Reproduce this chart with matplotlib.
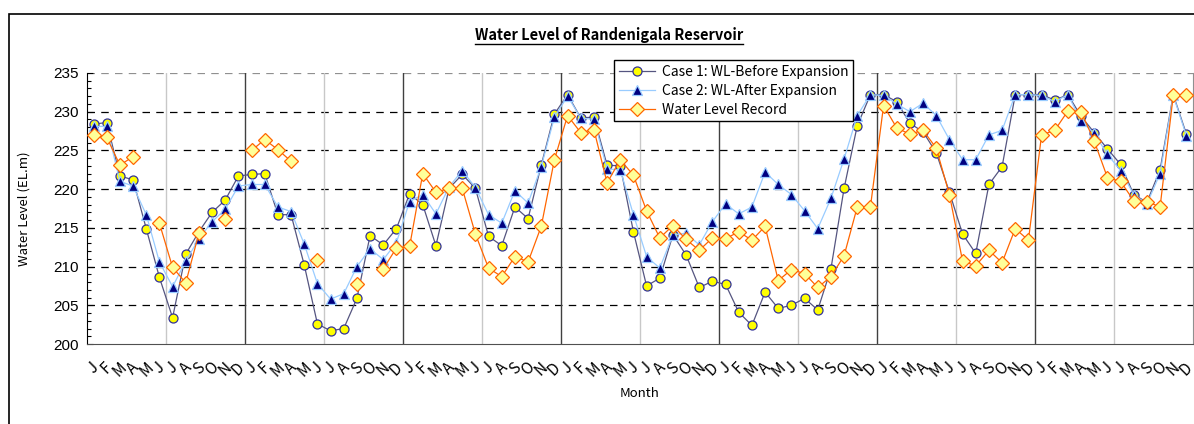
import numpy as np
import matplotlib
matplotlib.use("Agg")
import matplotlib.pyplot as plt
from matplotlib.lines import Line2D
from matplotlib.patches import Rectangle
from matplotlib.ticker import MultipleLocator

# ----------------------------
# Data (7 years x 12 months)
# ----------------------------
months = list("JFMAMJJASOND") * 7
nan = np.nan

case1_before = [
    228.4, 228.6, 221.7, 221.2, 214.9, 208.6, 203.4, 211.6, 214.5, 217.0, 218.6, 221.7,
    221.9, 222.0, 216.7, 216.7, 210.2, 202.6, 201.7, 202.0, 205.9, 214.0, 212.8, 214.9,
    219.4, 218.0, 212.7, 220.1, 221.9, 220.1, 213.9, 212.7, 217.7, 216.2, 223.1, 229.7,
    232.2, 229.2, 229.3, 223.1, 223.0, 214.5, 207.5, 208.5, 214.1, 211.5, 207.3, 208.1,
    207.7, 204.1, 202.4, 206.7, 204.6, 205.0, 205.9, 204.4, 209.7, 220.1, 228.2, 232.2,
    232.2, 231.3, 228.5, 227.4, 224.7, 219.6, 214.2, 211.7, 220.6, 222.9, 232.2, 232.2,
    232.2, 231.5, 232.2, 229.4, 227.3, 225.2, 223.2, 219.3, 218.3, 222.5, 232.2, 227.1,
]

case2_after = [
    228.1, 228.1, 221.0, 220.4, 216.7, 210.6, 207.4, 210.7, 213.6, 215.8, 217.4, 220.4,
    220.6, 220.6, 217.7, 217.1, 212.9, 207.8, 205.8, 206.5, 210.0, 212.3, 210.9, 213.1,
    218.4, 219.3, 216.8, 220.3, 222.4, 220.2, 216.7, 215.6, 219.8, 218.2, 222.9, 229.3,
    232.0, 229.2, 229.0, 222.6, 222.5, 216.7, 211.3, 209.8, 214.1, 214.3, 212.8, 215.8,
    218.1, 216.8, 217.7, 222.2, 220.6, 219.3, 217.2, 214.9, 218.8, 223.9, 229.5, 232.2,
    232.1, 231.0, 230.0, 231.1, 229.5, 226.4, 223.8, 223.8, 227.0, 227.6, 232.2, 232.2,
    232.1, 231.3, 232.2, 228.8, 227.2, 224.5, 222.4, 219.3, 218.1, 222.0, 232.1, 226.9,
]

wl_record = [
    227.0, 226.7, 223.1, 224.2, nan, 215.6, 209.9, 207.9, 214.3, nan, 216.1, nan,
    225.0, 226.4, 225.1, 223.6, nan, 210.9, nan, nan, 207.8, nan, 209.7, 212.4,
    212.6, 222.0, 219.6, 220.1, 220.1, 214.2, 209.8, 208.7, 211.3, 210.6, 215.2, 223.8,
    229.5, 227.3, 227.7, 220.8, 223.8, 221.8, 217.2, 213.7, 215.3, 213.5, 212.1, 213.7,
    213.6, 214.5, 213.4, 215.2, 208.2, 209.6, 209.1, 207.3, 208.7, 211.4, 217.7, 217.7,
    230.8, 227.9, 227.1, 227.6, 225.3, 219.3, 210.7, 210.1, 212.1, 210.5, 214.9, 213.4,
    227.0, 227.6, 230.1, 230.0, 226.2, 221.5, 221.0, 218.5, 218.4, 217.7, 232.1, 232.1,
]

x = np.arange(len(months))

# ----------------------------
# Figure
# ----------------------------
plt.rcParams['font.family'] = ['Noto Sans CJK JP', 'DejaVu Sans']

fig = plt.figure(figsize=(11.94, 4.24), dpi=100)
ax = fig.add_axes([87 / 1194, 1 - 344 / 424, 1106 / 1194, 271 / 424])

# outer chart-area frame
fig.patches.append(Rectangle((9 / 1194, -0.05), 1.2, 1 - 14 / 424 + 0.05,
                             transform=fig.transFigure, fill=False,
                             edgecolor='black', linewidth=1.2))

# horizontal dashed grid
for v in range(205, 235, 5):
    ax.axhline(v, color='black', linestyle=(0, (6, 5)), linewidth=0.9, zorder=1)
ax.axhline(235, color='#909090', linestyle=(0, (6, 5)), linewidth=0.9, zorder=1)

# year boundaries and mid-year lines
for k in range(1, 7):
    ax.axvline(12 * k - 0.5, color='#404040', linewidth=1.0, zorder=1)
for k in range(7):
    ax.axvline(12 * k + 5.5, color='#c8c8c8', linewidth=1.0, zorder=1)

ax.plot(x, case1_before, color='#555580', linewidth=0.9, marker='o',
        markersize=6.5, markerfacecolor='#ffff00', markeredgecolor='#333399',
        markeredgewidth=0.9, label='Case 1: WL-Before Expansion', zorder=3)
ax.plot(x, case2_after, color='#99ccff', linewidth=0.9, marker='^',
        markersize=7.5, markerfacecolor='#000080', markeredgecolor='#99ccff',
        markeredgewidth=0.9, label='Case 2: WL-After Expansion', zorder=4)
ax.plot(x, wl_record, color='#ff6600', linewidth=0.9, marker='D',
        markersize=7, markerfacecolor='#ffff99', markeredgecolor='#ff6600',
        markeredgewidth=0.9, label='Water Level Record', zorder=5)

ax.set_xlim(-0.5, len(months) - 0.5)
ax.set_ylim(200, 235)
ax.yaxis.set_major_locator(MultipleLocator(5))
ax.yaxis.set_minor_locator(MultipleLocator(1))
ax.tick_params(axis='y', which='major', direction='in', length=4, width=0.8,
               labelsize=11, pad=6)
ax.tick_params(axis='y', which='minor', direction='in', length=3, width=0.8)
for lbl in ax.get_yticklabels():
    lbl.set_fontfamily('Liberation Sans')

ax.set_xticks(x)
ax.set_xticklabels(months, rotation=45, fontsize=11, ha='center', va='top')
ax.tick_params(axis='x', length=0, pad=11)

ax.spines['left'].set_color('black')
ax.spines['bottom'].set_color('#505050')
ax.spines['top'].set_visible(False)
ax.spines['right'].set_color('#909090')

ax.set_ylabel('Water Level (EL.m)', fontsize=9.5, labelpad=16)
ax.set_xlabel('Month', fontsize=9.5, labelpad=5)

fig.legend(loc='upper left', bbox_to_anchor=(614 / 1194, 1 - 60 / 424),
           fontsize=10, frameon=True, fancybox=False, edgecolor='black',
           framealpha=1, borderaxespad=0, handlelength=2.6, handletextpad=0.5,
           labelspacing=0.35, borderpad=0.35)

# underlined bold title
title = fig.text(609 / 1194, 1 - 35 / 424, 'Water Level of Randenigala Reservoir',
                 ha='center', va='center', fontsize=10.5, fontweight='bold')
fig.canvas.draw()
bb = title.get_window_extent().transformed(fig.transFigure.inverted())
fig.add_artist(Line2D([bb.x0, bb.x1], [bb.y0 - 0.002, bb.y0 - 0.002],
                      transform=fig.transFigure, color='black', linewidth=1.0))

fig.savefig('out.png', dpi=100)
